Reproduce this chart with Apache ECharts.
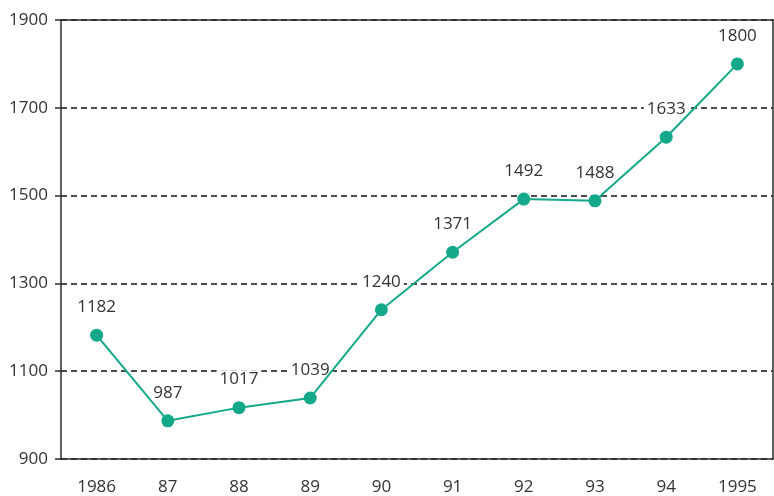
<!DOCTYPE html>
<html>
<head>
<meta charset="utf-8">
<script src="https://cdn.jsdelivr.net/npm/echarts@6/dist/echarts.min.js"></script>
<style>html,body{margin:0;padding:0;background:#fff;}#c{width:774px;height:496px;}</style>
</head>
<body>
<div id="c"></div>
<script>
const categories = ['1986','87','88','89','90','91','92','93','94','1995'];
const values = [1182, 987, 1017, 1039, 1240, 1371, 1492, 1488, 1633, 1800];
const yTicks = [900, 1100, 1300, 1500, 1700, 1900];

const chart = echarts.init(document.getElementById('c'), null, {renderer: 'canvas'});
const font = '"Open Sans", "Noto Sans", sans-serif';
const axisColor = '#2b2b2b';
const green = '#14a88a';
chart.setOption({
  animation: false,
  backgroundColor: '#fff',
  grid: {left: 61, right: 1, top: 20, bottom: 37},
  xAxis: [{
    type: 'category',
    data: categories,
    boundaryGap: true,
    axisLine: {lineStyle: {color: axisColor, width: 1.5}},
    axisTick: {alignWithLabel: true, length: 8, lineStyle: {color: axisColor, width: 1.5}},
    axisLabel: {color: '#333', fontSize: 17, fontFamily: font, margin: 20}
  }, {
    type: 'category',
    position: 'top',
    data: categories,
    axisLine: {show: true, lineStyle: {color: axisColor, width: 1.5}},
    axisTick: {show: false},
    axisLabel: {show: false}
  }],
  yAxis: [{
    type: 'value',
    min: yTicks[0],
    max: yTicks[yTicks.length - 1],
    interval: yTicks[1] - yTicks[0],
    axisLine: {show: true, lineStyle: {color: axisColor, width: 1.5}},
    axisTick: {show: true, length: 6, lineStyle: {color: axisColor, width: 1.5}},
    axisLabel: {color: '#333', fontSize: 17, fontFamily: font, margin: 13, formatter: v => String(v)},
    splitLine: {show: true, lineStyle: {color: '#111', type: [6, 4], width: 1.5}}
  }, {
    type: 'value',
    position: 'right',
    min: yTicks[0],
    max: yTicks[yTicks.length - 1],
    interval: yTicks[1] - yTicks[0],
    axisLine: {show: true, lineStyle: {color: axisColor, width: 1.5}},
    axisTick: {show: false},
    axisLabel: {show: false},
    splitLine: {show: false}
  }],
  series: [{
    name: 'labels',
    type: 'line',
    data: values,
    symbol: 'circle',
    symbolSize: 13,
    itemStyle: {color: 'rgba(0,0,0,0)'},
    lineStyle: {opacity: 0},
    label: {
      show: true,
      position: 'top',
      distance: 12,
      color: '#333',
      fontSize: 17,
      fontFamily: font,
      backgroundColor: '#fff',
      padding: [1, 3]
    },
    silent: true,
    z: 2
  }, {
    name: 'line',
    type: 'line',
    data: values,
    symbol: 'circle',
    symbolSize: 13,
    itemStyle: {color: green},
    lineStyle: {color: green, width: 2},
    label: {show: false},
    z: 3
  }]
});
</script>
</body>
</html>
